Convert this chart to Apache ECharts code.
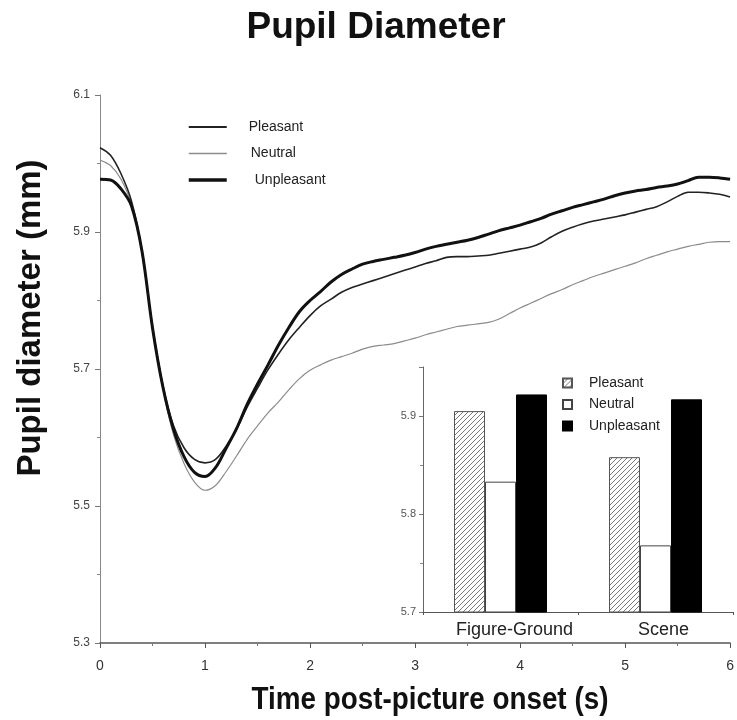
<!DOCTYPE html>
<html>
<head>
<meta charset="utf-8">
<script src="https://cdn.jsdelivr.net/npm/echarts@6/dist/echarts.min.js"></script>
<style>
  html, body { margin: 0; padding: 0; background: #fff; }
  #chart { width: 737px; height: 720px; }
</style>
</head>
<body>
<div id="chart"></div>
<script>
// Time axis samples (s)
const times = [0.0,0.1,0.2,0.3,0.4,0.5,0.6,0.7,0.8,0.9,1.0,1.1,1.2,1.3,1.4,1.5,1.6,1.7,1.8,1.9,2.0,
  2.1,2.2,2.3,2.4,2.5,2.6,2.7,2.8,2.9,3.0,3.1,3.2,3.3,3.4,3.5,3.6,3.7,3.8,3.9,4.0,
  4.1,4.2,4.3,4.4,4.5,4.6,4.7,4.8,4.9,5.0,5.1,5.2,5.3,5.4,5.5,5.6,5.7,5.8,5.9,6.0];

// Mean pupil diameter (mm) per condition
const pleasant = [6.023,6.012,5.985,5.945,5.872,5.762,5.675,5.617,5.585,5.568,5.563,5.568,5.587,5.612,5.644,5.672,5.699,5.722,5.743,5.761,5.778,
  5.792,5.802,5.812,5.819,5.824,5.829,5.834,5.839,5.844,5.849,5.854,5.858,5.863,5.864,5.864,5.865,5.866,5.869,5.872,5.875,
  5.878,5.884,5.893,5.901,5.907,5.912,5.916,5.919,5.922,5.925,5.929,5.933,5.937,5.944,5.952,5.958,5.958,5.957,5.955,5.951];
const neutral = [6.005,5.997,5.977,5.940,5.868,5.758,5.670,5.604,5.562,5.535,5.523,5.530,5.550,5.573,5.597,5.617,5.636,5.652,5.670,5.686,5.698,
  5.706,5.713,5.718,5.723,5.729,5.733,5.735,5.737,5.741,5.745,5.750,5.754,5.758,5.762,5.764,5.766,5.768,5.773,5.781,5.789,
  5.796,5.803,5.810,5.816,5.823,5.829,5.835,5.840,5.845,5.850,5.855,5.861,5.866,5.871,5.875,5.879,5.882,5.885,5.886,5.886];
const unpleasant = [5.977,5.976,5.963,5.938,5.872,5.760,5.673,5.612,5.572,5.549,5.543,5.556,5.584,5.613,5.648,5.678,5.706,5.735,5.761,5.784,5.800,
  5.813,5.827,5.838,5.846,5.853,5.857,5.860,5.863,5.866,5.870,5.875,5.879,5.882,5.885,5.888,5.892,5.897,5.902,5.906,5.910,
  5.915,5.920,5.926,5.931,5.936,5.940,5.944,5.948,5.953,5.957,5.960,5.962,5.965,5.967,5.970,5.975,5.980,5.980,5.979,5.977];

// Inset: average diameter by picture type
const insetCategories = ['Figure-Ground', 'Scene'];
const insetPleasant = [5.905, 5.858];
const insetNeutral = [5.833, 5.768];
const insetUnpleasant = [5.922, 5.917];

const SANS = "'Liberation Sans', Arial, Helvetica, sans-serif";

// Diagonal hatch fill for the pleasant bars
function makeHatch() {
  const c = document.createElement('canvas');
  const s = 5;
  c.width = s; c.height = s;
  const g = c.getContext('2d');
  g.fillStyle = '#fff';
  g.fillRect(0, 0, s, s);
  g.strokeStyle = '#6a6a6a';
  g.lineWidth = 0.9;
  g.beginPath();
  g.moveTo(0, s); g.lineTo(s, 0);
  g.moveTo(-s / 2, s / 2); g.lineTo(s / 2, -s / 2);
  g.moveTo(s / 2, s + s / 2); g.lineTo(s + s / 2, s / 2);
  g.stroke();
  return c;
}
const hatch = makeHatch();

const pair = arr => times.map((t, i) => [t, arr[i]]);

const chart = echarts.init(document.getElementById('chart'), null, { renderer: 'canvas' });

chart.setOption({
  backgroundColor: '#fff',
  animation: false,
  graphic: [
    {
      type: 'text',
      x: 376, y: 28,
      style: {
        text: 'Pupil Diameter',
        align: 'center', verticalAlign: 'middle',
        font: 'bold 37px ' + SANS,
        fill: '#111'
      }
    },
    {
      type: 'text',
      x: 430, y: 700,
      scaleX: 0.87,
      style: {
        text: 'Time post-picture onset (s)',
        align: 'center', verticalAlign: 'middle',
        font: 'bold 32px ' + SANS,
        fill: '#111'
      }
    },
    {
      type: 'text',
      x: 31, y: 318,
      rotation: Math.PI / 2,
      style: {
        text: 'Pupil diameter (mm)',
        align: 'center', verticalAlign: 'middle',
        font: 'bold 33px ' + SANS,
        fill: '#111'
      }
    }
  ],
  legend: [
    {
      orient: 'vertical',
      left: 187,
      top: 120,
      padding: 0,
      itemWidth: 38,
      itemHeight: 16,
      itemGap: 12.5,
      selectedMode: false,
      itemStyle: { color: 'rgba(0,0,0,0)', borderColor: 'rgba(0,0,0,0)', borderWidth: 0, opacity: 0 },
      textStyle: { fontFamily: SANS, fontSize: 14, color: '#222' },
      data: [
        { name: 'Pleasant', lineStyle: { width: 1.8 }, textStyle: { padding: [0, 0, 0, 17] } },
        { name: 'Neutral', lineStyle: { width: 1.3 }, textStyle: { padding: [0, 0, 0, 19] } },
        { name: 'Unpleasant', lineStyle: { width: 3.5 }, textStyle: { padding: [0, 0, 0, 23] } }
      ]
    },
    {
      orient: 'vertical',
      left: 562,
      top: 376,
      padding: 0,
      itemWidth: 9,
      itemHeight: 9,
      itemGap: 7.5,
      icon: 'rect',
      selectedMode: false,
      textStyle: { fontFamily: SANS, fontSize: 14, color: '#222', padding: [0, 0, 0, 12] },
      data: ['Pleasant mean', 'Neutral mean', 'Unpleasant mean'],
      formatter: name => name.replace(' mean', '')
    }
  ],
  grid: [
    { left: 100, right: 5, top: 95, bottom: 77 },
    { left: 423, right: 4, top: 367, bottom: 108 }
  ],
  xAxis: [
    {
      gridIndex: 0,
      type: 'value',
      min: 0,
      max: 6,
      interval: 1,
      axisLine: { onZero: false, lineStyle: { color: '#555', width: 1.5 } },
      axisTick: { show: true, length: 5, lineStyle: { color: '#555' } },
      minorTick: { show: true, splitNumber: 2, length: 3, lineStyle: { color: '#777' } },
      axisLabel: { fontFamily: SANS, fontSize: 14, color: '#333', margin: 16 },
      splitLine: { show: false }
    },
    {
      gridIndex: 1,
      type: 'category',
      data: [
        { value: insetCategories[0], textStyle: { padding: [0, 0, 0, 28] } },
        { value: insetCategories[1], textStyle: { padding: [0, 0, 0, 16] } }
      ],
      axisLine: { lineStyle: { color: '#555', width: 1.2 } },
      axisTick: { show: true, length: 3, lineStyle: { color: '#555' } },
      axisLabel: { interval: 0, fontFamily: SANS, fontSize: 18, color: '#222', margin: 9 },
      splitLine: { show: false }
    }
  ],
  yAxis: [
    {
      gridIndex: 0,
      type: 'value',
      min: 5.3,
      max: 6.1,
      interval: 0.2,
      axisLine: { show: true, onZero: false, lineStyle: { color: '#888', width: 1 } },
      axisTick: { show: true, length: 5, lineStyle: { color: '#777' } },
      minorTick: { show: true, splitNumber: 2, length: 3, lineStyle: { color: '#888' } },
      axisLabel: { fontFamily: SANS, fontSize: 12, color: '#444', margin: 10, formatter: v => v.toFixed(1) },
      splitLine: { show: false }
    },
    {
      gridIndex: 1,
      type: 'value',
      min: 5.7,
      max: 5.95,
      interval: 0.1,
      axisLine: { show: true, lineStyle: { color: '#666', width: 1 } },
      axisTick: { show: true, length: 4, lineStyle: { color: '#777' } },
      minorTick: { show: true, splitNumber: 2, length: 3, lineStyle: { color: '#888' } },
      axisLabel: {
        fontFamily: SANS, fontSize: 11, color: '#555', margin: 7,
        showMaxLabel: false,
        formatter: v => v.toFixed(1)
      },
      splitLine: { show: false }
    }
  ],
  series: [
    {
      name: 'Pleasant',
      type: 'line',
      xAxisIndex: 0, yAxisIndex: 0,
      data: pair(pleasant),
      symbol: 'none',
      smooth: 0.35,
      lineStyle: { color: '#222', width: 1.6 },
      itemStyle: { color: '#222' },
      z: 4
    },
    {
      name: 'Neutral',
      type: 'line',
      xAxisIndex: 0, yAxisIndex: 0,
      data: pair(neutral),
      symbol: 'none',
      smooth: 0.35,
      lineStyle: { color: '#8c8c8c', width: 1.2 },
      itemStyle: { color: '#8c8c8c' },
      z: 3
    },
    {
      name: 'Unpleasant',
      type: 'line',
      xAxisIndex: 0, yAxisIndex: 0,
      data: pair(unpleasant),
      symbol: 'none',
      smooth: 0.35,
      lineStyle: { color: '#111', width: 3 },
      itemStyle: { color: '#111' },
      z: 5
    },
    {
      name: 'Pleasant mean',
      type: 'bar',
      xAxisIndex: 1, yAxisIndex: 1,
      data: insetPleasant,
      barWidth: 31,
      barGap: '0%',
      itemStyle: { color: { image: hatch, repeat: 'repeat' }, borderColor: '#555', borderWidth: 1 },
      z: 6
    },
    {
      name: 'Neutral mean',
      type: 'bar',
      xAxisIndex: 1, yAxisIndex: 1,
      data: insetNeutral,
      barWidth: 31,
      barGap: '0%',
      itemStyle: { color: '#fff', borderColor: '#444', borderWidth: 1 },
      z: 6
    },
    {
      name: 'Unpleasant mean',
      type: 'bar',
      xAxisIndex: 1, yAxisIndex: 1,
      data: insetUnpleasant,
      barWidth: 31,
      barGap: '0%',
      itemStyle: { color: '#000', borderColor: '#000', borderWidth: 1 },
      z: 6
    }
  ]
});
</script>
</body>
</html>
